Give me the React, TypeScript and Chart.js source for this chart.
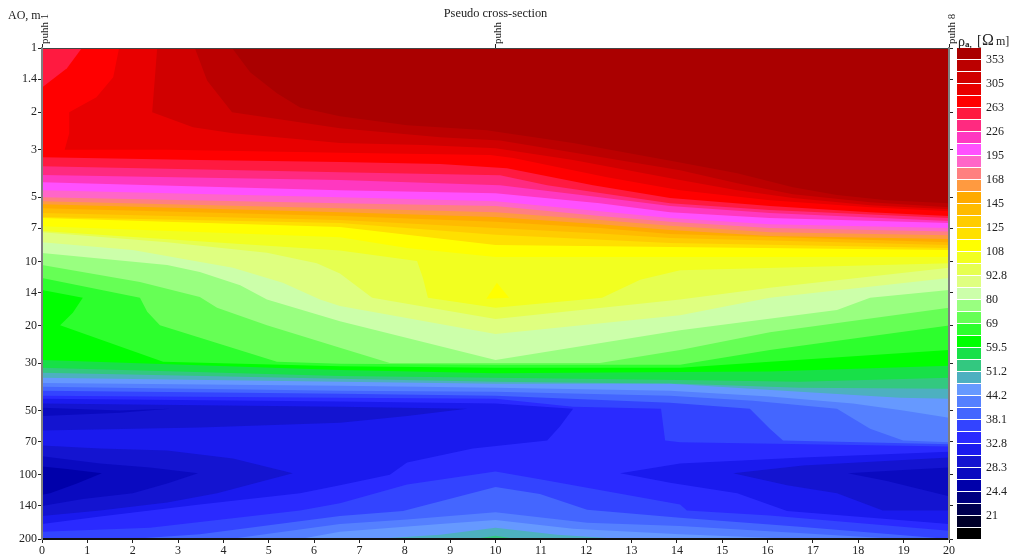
import React, { useEffect, useRef } from "react";
import { Chart, registerables } from "chart.js";

Chart.register(...registerables);

const FONT = "'Liberation Serif', serif";
const titleText = "Pseudo cross-section";
const xMin = 0;
const xMax = 20;
const aoMin = 1;
const aoMax = 200;
const aoTicks = [1, 1.4, 2, 3, 5, 7, 10, 14, 20, 30, 50, 70, 100, 140, 200];
const soundingPos = [0, 10, 20];
const soundingNames = ["puhh 1", "puhh", "puhh 8"];
const scaleLabels = ["353", "305", "263", "226", "195", "168", "145", "125", "108", "92.8", "80", "69", "59.5", "51.2", "44.2", "38.1", "32.8", "28.3", "24.4", "21"];
const scaleColors = [
  "#aa0000", "#bb0000", "#d00000", "#e80000", "#ff0000", "#ff1a40", "#ff2a80", "#ff38c0", "#ff50ff",
  "#ff66c8", "#ff8080", "#ff9a40", "#ffaa00", "#ffbb00", "#ffcc00", "#ffe000", "#ffff00", "#f2ff20",
  "#e6ff50", "#dfff80", "#ccffaa", "#99ff80", "#66ff55", "#2dff2d", "#00ff00", "#18e048", "#33c880",
  "#4db0c0", "#6699ff", "#5580ff", "#4466ff", "#3344ff", "#2a2aff", "#1a1aee", "#1414d0", "#0a0ac0",
  "#0000aa", "#000080", "#000050", "#000028", "#000000",
];

// Contours: [distance, AO]
const c_bb = [[0,1],[4.19,1],[4.59,1.3],[5.18,1.63],[5.69,1.9],[6.57,2.09],[8.05,2.3],[9.81,2.43],[10.25,2.51],[11.71,2.79],[14.07,3.44],[15.33,3.86],[16.56,4.49],[17.53,4.89],[18.63,5.17],[20,5.34]];
const c_cc = [[0,1],[3.37,1],[3.64,1.42],[4.19,2],[6.57,2.38],[8.78,2.62],[10.1,2.71],[11.71,3.09],[14.07,3.74],[15.33,4.3],[16.56,4.84],[18.26,5.28],[20,5.57]];
const c_e8 = [[0,1],[2.54,1],[2.43,2],[3.33,2.35],[4.21,2.51],[6.57,2.79],[8.4,2.85],[10,2.95],[11.71,3.35],[14.07,4.16],[15.33,4.64],[16.56,5.05],[18.26,5.45],[20,5.69]];
const c_ff = [[0,1],[1.7,1],[1.57,1.37],[1.2,1.7],[0.6,2],[0.6,2.51],[0.5,3],[2.76,3],[6.57,3.1],[9.88,3.17],[10.39,3.28],[12.46,4.03],[14.07,4.64],[16.05,5.17],[18.26,5.57],[20,5.82]];
const p_corner = [[0,1],[0.88,1],[0.55,1.245],[0,1.53]];
const c_ff1a = [[0,3.25],[3.48,3.35],[6.57,3.42],[8.78,3.5],[10.25,3.66],[12.15,4.4],[13.85,5.05],[16.05,5.5],[18.26,5.88],[20,6.12]];
const c_ff2a = [[0,3.58],[6.57,3.82],[10.1,3.95],[11.14,4.4],[13.85,5.34],[16.05,5.75],[20,6.27]];
const c_ff38 = [[0,3.94],[6.57,4.16],[10.1,4.4],[12.3,5],[13.85,5.5],[16.05,5.94],[20,6.47]];
const c_ff50 = [[0,4.26],[6.57,4.64],[10,4.79],[12.3,5.34],[13.85,5.88],[16.05,6.27],[20,6.61]];
const c_ff66 = [[0,4.64],[6.57,5],[10,5.23],[12.3,5.82],[13.85,6.27],[16.05,6.7],[20,6.98]];
const c_ff80 = [[0,5],[6.57,5.34],[10,5.5],[12.3,6.12],[13.85,6.52],[16.05,6.98],[20,7.24]];
const c_ff9a = [[0,5.23],[6.57,5.63],[10,5.88],[12.3,6.4],[13.85,6.8],[16.05,7.3],[20,7.54]];
const c_ffaa = [[0,5.4],[6.57,5.88],[10,6.2],[12.3,6.7],[13.85,7.13],[16.05,7.6],[20,7.85]];
const c_ffbb = [[0,5.63],[6.57,6.12],[10,6.52],[12.3,6.98],[13.85,7.45],[20,8.14]];
const c_ffcc = [[0,5.94],[6.57,6.4],[10,6.98],[12.3,7.4],[13.85,7.77],[20,8.39]];
const c_ffe0 = [[0,6.2],[6.57,6.6],[10,7.5],[13.85,8.2],[20,8.66]];
const c_ffff = [[0,6.27],[6.57,6.9],[10,8.39],[13.85,8.57],[20,8.85]];
const c_f2 = [[0,6.85],[6.57,7.7],[8.05,8.66],[10,9.54],[14.07,9.54],[20,9.54]];
const p_yellowTip = [[10.03,12.6],[9.8,14.95],[10.3,14.8]];
const c_e6 = [[0,7.2],[6.57,8.9],[8.27,9.95],[8.4,11.96],[8.51,14.8],[10,16.5],[12.35,14.8],[13.19,12.2],[14.07,11],[20,10.2]];
const c_df = [[0,7.3],[2.76,8.14],[4.96,9.1],[6.06,10.2],[6.57,11.4],[7.28,14.8],[10,18.6],[14.07,15.1],[16.05,13.3],[20,10.7]];
const c_cf = [[0,8.14],[2,8.85],[4.21,10.7],[5.31,12.6],[6.13,15.1],[6.57,16.2],[10,21.9],[14.07,17.9],[16.05,14.8],[20,11.96]];
const c_99 = [[0,9.14],[2.76,10.4],[3.48,11.2],[4.37,12.95],[4.96,15.1],[6.57,19.1],[10,29],[14.07,21],[17.53,16.9],[18.26,14.8],[20,13.6]];
const c_66 = [[0,10.4],[2.16,12.5],[3.48,14.7],[3.86,16.5],[4.96,19.9],[6.57,25.4],[7.67,29.9],[10,29.9],[12.3,29.9],[14.07,26],[16.05,21.5],[20,16.5]];
const c_2d = [[0,11.96],[2.16,14.8],[2.32,17.2],[2.6,19.9],[5.18,29.5],[6.57,30.2],[10,30.5],[14.07,30.5],[16.05,26],[20,20]];
const c_00 = [[0,13.6],[0.9,14.8],[0.68,17.4],[0.4,19.9],[2.67,29.5],[6.57,31],[10,31.5],[14.07,31.5],[16.05,29.5],[20,26]];
const c_18 = [[0,29],[6.57,32.3],[10,33.4],[14.07,33],[16.05,32.8],[20,30.8]];
const c_33 = [[0,31.5],[6.57,34.4],[10,35.1],[14.07,36],[16.71,36.7],[20,35.1]];
const c_4d = [[0,33.3],[6.57,35.5],[10,36.7],[14.07,37.5],[16.71,39.1],[20,39.5]];
const c_69 = [[0,35.1],[6.57,36.7],[10,37.5],[13.85,37.5],[16.71,40.8],[18.92,43.5],[20,44]];
const c_55 = [[0,37.1],[6.57,38.3],[10,39.1],[13.85,40.4],[16.05,43],[17.88,46.4],[18.99,50],[20,54]];
const c_44 = [[0,38.7],[6.57,40.4],[10,40.8],[13.85,42.6],[15.68,45],[17.53,49],[18.26,60.8],[18.99,69],[20,70.5]];
const c_3a = [[0,40.4],[6.57,41.7],[10,42.6],[13.85,46],[15.61,49],[16.05,60.8],[16.34,69],[20,72]];
const c_2a = [[0,42.6],[6.57,43.5],[10,44],[11.71,48],[13.65,49],[13.74,69],[14.07,70.5],[20,73.8]];
const p_1aLeft = [[0,44],[6.57,45.4],[10,46.4],[11.71,49],[11.42,59.4],[11.14,69],[9.5,75.4],[8.05,87.7],[7.67,100],[6.57,112],[5.69,122],[3.48,138],[1.28,157],[0,170]];
const p_1aRight = [[12.75,98.4],[14.07,88.5],[16.78,83],[20,78],[20,170],[16.43,148],[15.33,122],[13.85,109]];
const p_14Top = [[0,46.3],[6.57,48],[9.37,49],[8.05,53],[6.57,57],[3.48,60.1],[0,62]];
const p_0aTop = [[0,48.5],[1.72,50],[2.82,49],[1.72,51.2],[0,53]];
const p_14Low = [[0,73],[1.28,75.4],[2.76,77],[4.21,84],[5.53,98.4],[3.86,122],[2.76,135],[1.28,147],[0,156]];
const p_0aLow = [[0,82],[1.28,88.5],[2.38,92.5],[3.44,98.4],[2.76,110],[2,122],[0.9,130],[0,140]];
const p_00Low = [[0,91.5],[0.55,94],[1.32,98.4],[0.77,110],[0.18,122],[0,124]];
const p_14Right = [[15.24,98.4],[16.78,90.5],[20,83],[20,147],[18.54,147],[17.53,122],[16.43,112]];
const p_0aRight = [[17.77,98.4],[18.99,95],[20,92.5],[20,126],[18.63,107]];
const c_b3 = [[0,185],[2.38,177],[5.69,147],[6.57,136],[8.05,111],[10,96.5],[10.98,105],[14.07,138],[14.22,147],[16.05,155],[20,183]];
const c_b4 = [[1.94,200],[3.48,190],[6.57,156],[7.96,148],[10,114],[10.98,123],[12.02,146],[14.07,159],[16.71,175],[20,200]];
const c_b5 = [[4.15,200],[6.57,170],[8.05,162],[10,150],[12.02,168],[14.07,174],[18.92,200]];
const c_b6 = [[5.69,200],[6.57,185],[8.78,170],[10,163],[11.71,179],[14.07,190],[16.71,200]];
const c_b7 = [[7.3,200],[8.78,191],[10,177],[11.36,191],[12.81,200]];
const c_b8 = [[9.5,200],[10,193],[10.47,200]];

const below = (c) => [...c, [c[c.length - 1][0], aoMax], [c[0][0], aoMax]];

// Painter's order: earlier entries lie underneath.
const layers = [
  ["#aa0000", below([[0, 1], [20, 1]])],
  ["#bb0000", below(c_bb)], ["#d00000", below(c_cc)], ["#e80000", below(c_e8)], ["#ff0000", below(c_ff)],
  ["#ff1a40", p_corner], ["#ff1a40", below(c_ff1a)], ["#ff2a80", below(c_ff2a)], ["#ff38c0", below(c_ff38)],
  ["#ff50ff", below(c_ff50)], ["#ff66c8", below(c_ff66)], ["#ff8080", below(c_ff80)], ["#ff9a40", below(c_ff9a)],
  ["#ffaa00", below(c_ffaa)], ["#ffbb00", below(c_ffbb)], ["#ffcc00", below(c_ffcc)], ["#ffe000", below(c_ffe0)],
  ["#ffff00", below(c_ffff)], ["#f2ff20", below(c_f2)], ["#ffff00", p_yellowTip], ["#e6ff50", below(c_e6)],
  ["#dfff80", below(c_df)], ["#ccffaa", below(c_cf)], ["#99ff80", below(c_99)], ["#66ff55", below(c_66)],
  ["#2dff2d", below(c_2d)], ["#00ff00", below(c_00)], ["#18e048", below(c_18)], ["#33c880", below(c_33)],
  ["#4db0c0", below(c_4d)], ["#6699ff", below(c_69)], ["#5580ff", below(c_55)], ["#4466ff", below(c_44)],
  ["#3344ff", below(c_3a)], ["#2a2aff", below(c_2a)],
  ["#1a1aee", p_1aLeft], ["#1a1aee", p_1aRight], ["#1414d0", p_14Top], ["#0a0ac0", p_0aTop],
  ["#1414d0", p_14Low], ["#0a0ac0", p_0aLow], ["#0000aa", p_00Low], ["#1414d0", p_14Right], ["#0a0ac0", p_0aRight],
  ["#3344ff", below(c_b3)], ["#4466ff", below(c_b4)], ["#5580ff", below(c_b5)], ["#6699ff", below(c_b6)],
  ["#4db0c0", below(c_b7)], ["#33c880", below(c_b8)],
];

const fitW = (w) => (s) => { s.width = w; };
const fitH = (h) => (s) => { s.height = h; };
const tickFont = { family: FONT, size: 12 };
const INK = "#222222";

export default function App() {
  const mainRef = useRef(null);
  const barRef = useRef(null);

  useEffect(() => {
    document.body.style.margin = "0";
    const yBase = {
      type: "logarithmic",
      min: aoMin,
      max: aoMax,
      reverse: true,
      afterBuildTicks: (s) => { s.ticks = aoTicks.map((value) => ({ value })); },
      border: { display: true, color: "#808080", width: 2, z: 1 },
      grid: { drawOnChartArea: false, drawTicks: true, tickLength: 4, tickColor: INK, z: 1 },
    };
    const main = new Chart(mainRef.current, {
      type: "scatter",
      data: {
        datasets: layers
          .map(([color, pts], i) => ({
            label: "band " + i,
            data: pts.map(([x, y]) => ({ x, y })),
            showLine: true,
            fill: "shape",
            backgroundColor: color,
            borderWidth: 0,
            pointRadius: 0,
            pointHoverRadius: 0,
            tension: 0,
            xAxisID: "x",
            yAxisID: "y",
          }))
          .reverse(),
      },
      plugins: [
        {
          id: "aoCaption",
          afterDraw(chart) {
            const { ctx } = chart;
            ctx.save();
            ctx.font = "12px " + FONT;
            ctx.fillStyle = INK;
            ctx.textAlign = "left";
            ctx.textBaseline = "middle";
            ctx.fillText("AO, m", 8, 16);
            ctx.restore();
          },
        },
      ],
      options: {
        responsive: false,
        animation: false,
        events: [],
        layout: { padding: 0 },
        plugins: {
          legend: { display: false },
          tooltip: { enabled: false },
          title: { display: false },
        },
        scales: {
          x: {
            type: "linear",
            position: "bottom",
            min: xMin,
            max: xMax,
            ticks: { stepSize: 1, autoSkip: false, maxRotation: 0, color: INK, font: tickFont, padding: 1, callback: (v) => String(v) },
            border: { display: true, color: "#111111", width: 2, z: 1 },
            grid: { drawOnChartArea: false, drawTicks: true, tickLength: 4, tickColor: INK, z: 1 },
            afterFit: fitH(17),
          },
          xTop: {
            type: "linear",
            position: "top",
            min: xMin,
            max: xMax,
            title: {
              display: true,
              text: titleText,
              color: INK,
              font: { family: FONT, size: 12.4, weight: "normal", lineHeight: 1.2 },
              padding: { top: 6, bottom: 0 },
            },
            afterBuildTicks: (s) => { s.ticks = soundingPos.map((value) => ({ value })); },
            ticks: {
              autoSkip: false,
              minRotation: 90,
              maxRotation: 90,
              color: INK,
              font: { family: FONT, size: 11 },
              padding: 0,
              labelOffset: 16,
              callback: (_v, i) => soundingNames[i],
            },
            border: { display: true, color: "#444444", width: 1, z: 1 },
            grid: { drawOnChartArea: false, drawTicks: true, tickLength: 4, tickColor: INK, z: 1 },
            afterFit: fitH(48),
          },
          y: {
            ...yBase,
            position: "left",
            ticks: { autoSkip: false, color: INK, font: tickFont, padding: 1, callback: (v) => String(v) },
            afterFit: fitW(42),
          },
          yRight: {
            ...yBase,
            position: "right",
            ticks: { autoSkip: false, display: false },
            afterFit: fitW(61),
          },
        },
      },
    });

    const bar = new Chart(barRef.current, {
      type: "bar",
      data: {
        labels: ["scale"],
        datasets: scaleColors.map((color, i) => ({
          label: "cell " + i,
          data: [1],
          backgroundColor: color,
          borderColor: "#ffffff",
          borderWidth: { top: 0, left: 0, right: 0, bottom: 1 },
          borderSkipped: false,
          inflateAmount: 0,
          barPercentage: 1,
          categoryPercentage: 1,
        })),
      },
      plugins: [
        {
          id: "scaleCaption",
          afterDraw(chart) {
            const { ctx } = chart;
            const pieces = [
              ["ρ", "14px", 8, 46],
              ["a,", "bold 9px", 15, 47],
              ["[", "14px", 27, 45],
              ["Ω", "16px", 32, 45],
              ["m]", "12px", 46, 45],
            ];
            ctx.save();
            ctx.fillStyle = INK;
            ctx.textAlign = "left";
            ctx.textBaseline = "alphabetic";
            pieces.forEach(([text, font, x, y]) => {
              ctx.font = font + " " + FONT;
              ctx.fillText(text, x, y);
            });
            ctx.restore();
          },
        },
      ],
      options: {
        responsive: false,
        animation: false,
        events: [],
        layout: { padding: { left: 7, top: 48, bottom: 16, right: 0 } },
        plugins: { legend: { display: false }, tooltip: { enabled: false }, title: { display: false } },
        scales: {
          x: { display: false, stacked: true },
          y: {
            stacked: true,
            position: "right",
            reverse: true,
            min: 0,
            max: scaleColors.length,
            afterBuildTicks: (s) => { s.ticks = scaleLabels.map((_l, i) => ({ value: 2 * i + 1 })); },
            ticks: { autoSkip: false, color: INK, font: tickFont, padding: 5, callback: (_v, i) => scaleLabels[i] },
            border: { display: false },
            grid: { display: false, drawTicks: false },
            afterFit: fitW(29),
          },
        },
      },
    });

    return () => {
      main.destroy();
      bar.destroy();
    };
  }, []);

  return (
    <div style={{ position: "fixed", left: 0, top: 0, width: 1010, height: 556, background: "#fff" }}>
      <canvas ref={mainRef} width={1010} height={556} style={{ position: "absolute", left: 0, top: 0 }} />
      <canvas ref={barRef} width={60} height={556} style={{ position: "absolute", left: 950, top: 0 }} />
    </div>
  );
}
